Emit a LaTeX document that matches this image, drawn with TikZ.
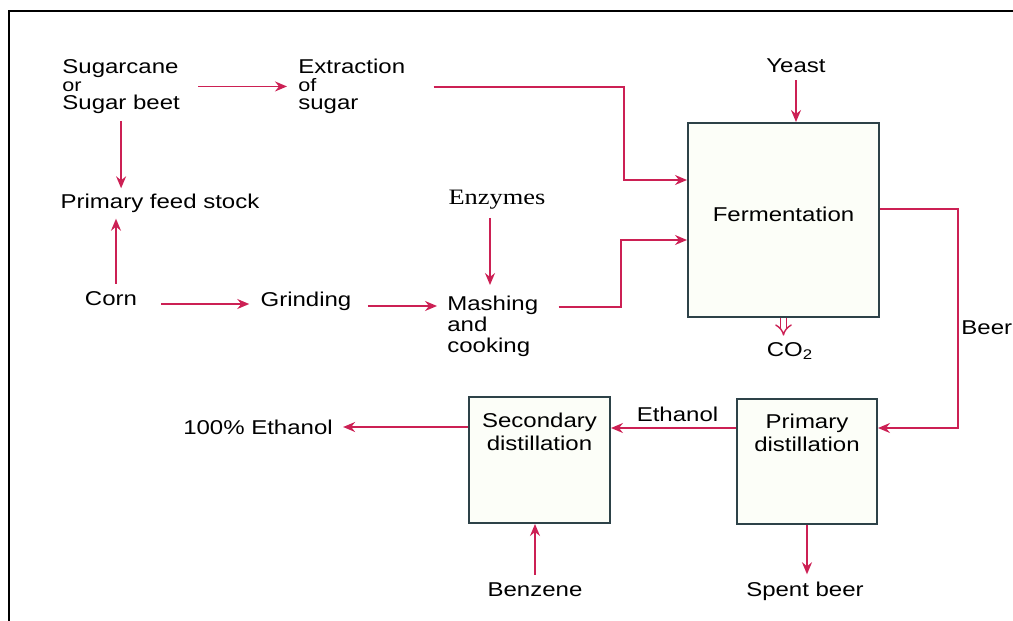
\documentclass[tikz,border=0pt]{standalone}
\usepackage{fontspec}
\setmainfont{Liberation Sans}[FakeStretch=1.2]
\newfontfamily\enzfont{Liberation Serif}[FakeStretch=1.2]
\usepackage{xcolor}
\usetikzlibrary{arrows.meta, positioning}

\definecolor{flowred}{RGB}{204,32,84}
\definecolor{boxline}{RGB}{45,66,72}
\definecolor{boxfill}{RGB}{252,254,248}

\begin{document}
\begin{tikzpicture}[
        x=0.5pt, y=-0.5pt,
        every node/.style={inner sep=0pt, font=\fontsize{10}{12}\selectfont},
        box/.style={draw=boxline, line width=1pt, fill=boxfill, align=center, font=\fontsize{10}{11.5}\selectfont},
        lbl/.style={align=left, anchor=north west},
        arrow/.style={-{Stealth[length=6pt, width=5pt, inset=2pt]}, draw=flowred, line width=0.8pt},
        gasarrow/.style={-{Implies}, draw=flowred, double=white, double distance=2.2pt, line width=0.7pt}
    ]
    \useasboundingbox (0,0) rectangle (1013,621);
    \draw[line width=1pt] (9,621) |- (1013,11);

    % Nodes - feed stock
    \node[lbl, font=\fontsize{10}{9}\selectfont] (cane) at (62,59) {Sugarcane\\{\fontsize{9}{9}\selectfont or}\\Sugar beet};
    \node[lbl, font=\fontsize{10}{9}\selectfont] (extr) at (298,59) {Extraction\\{\fontsize{9}{9}\selectfont of}\\sugar};
    \node (feed) at (160,203) {Primary feed stock};
    \node (corn) at (111,299) {Corn};
    \node (grind) at (306,301) {Grinding};
    \node[font=\enzfont\fontsize{11}{13}\selectfont] (enz) at (497,200) {Enzymes};
    \node[lbl, font=\fontsize{10}{10.5}\selectfont] (mash) at (447,296) {Mashing\\and\\cooking};

    % Nodes - process
    \node[box, minimum width=95.5pt, minimum height=97pt, text height=8pt, text depth=7pt] (ferm) at (783.5,220) {Fermentation};
    \node (yeast) at (796,66) {Yeast};
    \node[anchor=base] (co2) at (790,356) {CO\textsubscript{2}};
    \node[anchor=west] (beer) at (961,328) {Beer};
    \node[box, minimum width=70pt, minimum height=62.5pt] (prim) at (807,461.5) {Primary\\distillation\\[17.5pt]\mbox{}};
    \node (spent) at (805,591) {Spent beer};
    \node[box, minimum width=70.5pt, minimum height=63pt] (sec) at (539.5,460) {Secondary\\distillation\\[16.5pt]\mbox{}};
    \node (benz) at (535,590) {Benzene};
    \node (eth) at (258,427) {100\% Ethanol};

    % Arrows - feed stock
    \draw[arrow] ([xshift=9pt]cane.east) -- ([xshift=-5.5pt]cane.east -| extr.west);
    \draw[arrow] ([yshift=-3.5pt]cane.south) -- ([yshift=2.5pt]cane.south |- feed.north);
    \draw[arrow] ([xshift=2.5pt,yshift=4pt]corn.north) -- ([xshift=2.5pt,yshift=-3pt]corn.north |- feed.south);
    \draw[arrow] ([xshift=12pt,yshift=-2.5pt]corn.east) -- ([xshift=-5.5pt,yshift=-2.5pt]corn.east -| grind.west);
    \draw[arrow] ([xshift=8pt,yshift=-2.5pt]grind.east) -- ([xshift=-5pt,yshift=-2.5pt]grind.east -| mash.west);
    \draw[arrow] ([xshift=-3.5pt,yshift=-4pt]enz.south) -- ([xshift=-3.5pt,yshift=5.5pt]enz.south |- mash.north);

    % Arrows - fermentation
    \draw[arrow] ([xshift=14pt]extr.east) -| ([xshift=-31.5pt,yshift=20pt]ferm.west) -- ([yshift=20pt]ferm.west);
    \draw[arrow] ([xshift=10pt,yshift=-3pt]mash.east |- grind.east) -| ([xshift=-33pt,yshift=-10pt]ferm.west) -- ([yshift=-10pt]ferm.west);
    \draw[arrow] ([yshift=-3.5pt]yeast.south) -- (yeast.south |- ferm.north);
    \draw[gasarrow] (ferm.south) -- ([yshift=3pt]ferm.south |- co2.north);

    % Arrows - distillation
    \draw[arrow] ([yshift=5.5pt]ferm.east) -- ++(39pt,0) |- ([yshift=16.75pt]prim.east);
    \draw[arrow] ([yshift=16.75pt]prim.west) -- ([yshift=16.75pt]prim.west -| sec.east)
        node[midway, above=3pt, xshift=2pt] (ethlbl) {Ethanol};
    \draw[arrow] (prim.south) -- ([yshift=3.5pt]prim.south |- spent.north);
    \draw[arrow] ([yshift=4pt]benz.north) -- (benz.north |- sec.south);
    \draw[arrow] (sec.west |- eth.east) -- ([xshift=5pt]eth.east);

\end{tikzpicture}
\end{document}
